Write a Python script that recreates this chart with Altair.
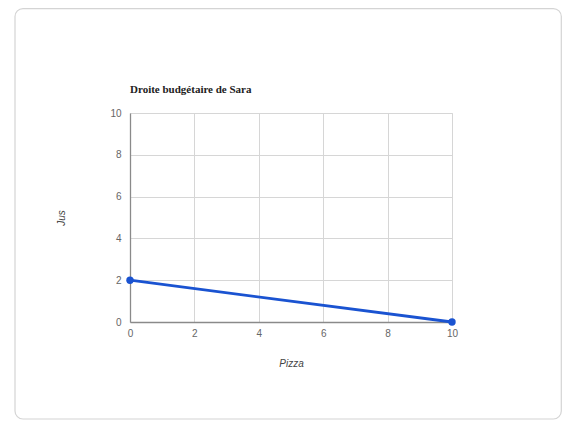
import altair as alt
import pandas as pd

pizza = [0, 10]
jus = [2, 0]
x_ticks = [0, 1, 2, 3, 4, 5, 6, 7, 8, 9, 10]
y_ticks = [0, 1, 2, 3, 4, 5, 6, 7, 8, 9, 10]
title_text = "Droite budgétaire de Sara"

df = pd.DataFrame({"Pizza": pizza, "Jus": jus})

W, H = 322, 209
FONT = "Liberation Sans"

card = alt.Chart(pd.DataFrame({"k": [0]})).mark_rect(
    fill="transparent", stroke="#d4d4d4", strokeWidth=1.2, cornerRadius=8
).encode(
    x=alt.value(-115), x2=alt.value(431.3), y=alt.value(-104.4), y2=alt.value(306)
)

title = alt.Chart(pd.DataFrame({"k": [0]})).mark_text(
    align="left", baseline="alphabetic", font="Liberation Serif", fontSize=11,
    fontWeight="bold", color="#222"
).encode(x=alt.value(0), y=alt.value(-20), text=alt.value(title_text))

grid_color = {"condition": {"test": "datum.value % 2 == 0", "value": "#d6d6d6"}, "value": "#e6e6e6"}
label_expr = "datum.value % 2 == 0 ? datum.label : ''"

x_enc = alt.X(
    "Pizza:Q",
    scale=alt.Scale(domain=[0, 10], nice=False),
    axis=alt.Axis(
        values=x_ticks, labelExpr=label_expr, title="Pizza", titleFontStyle="italic",
        titleFontWeight="normal", titleFont=FONT, titleFontSize=10, titleColor="#444",
        titlePadding=20, labelFont=FONT, labelFontSize=10, labelColor="#666",
        labelPadding=6, tickSize=0, domainColor="#8a8a8a", domainWidth=1.3,
        gridColor=grid_color, labelFlush=False,
    ),
)
y_enc = alt.Y(
    "Jus:Q",
    scale=alt.Scale(domain=[0, 10], nice=False),
    axis=alt.Axis(
        values=y_ticks, labelExpr=label_expr, title="Jus", titleFontStyle="italic",
        titleFontWeight="normal", titleFont=FONT, titleFontSize=10, titleColor="#444",
        titlePadding=43, labelFont=FONT, labelFontSize=10, labelColor="#666",
        labelPadding=9, tickSize=0, domainColor="#8a8a8a", domainWidth=1.3,
        gridColor=grid_color, labelFlush=False,
    ),
)

line = alt.Chart(df).mark_line(color="#1a53d1", strokeWidth=2.8).encode(x=x_enc, y=y_enc)
pts = alt.Chart(df).mark_circle(color="#1a53d1", size=55, opacity=1).encode(x="Pizza:Q", y="Jus:Q")

chart = alt.layer(card, title, line, pts).properties(
    width=W, height=H,
    autosize=alt.AutoSizeParams(type="none"),
    padding={"left": 122, "top": 105, "right": 110, "bottom": 98},
).configure_view(stroke="#d6d6d6").configure(background="white")

chart.save("out.html", embed_options={"renderer": "svg", "actions": False})
